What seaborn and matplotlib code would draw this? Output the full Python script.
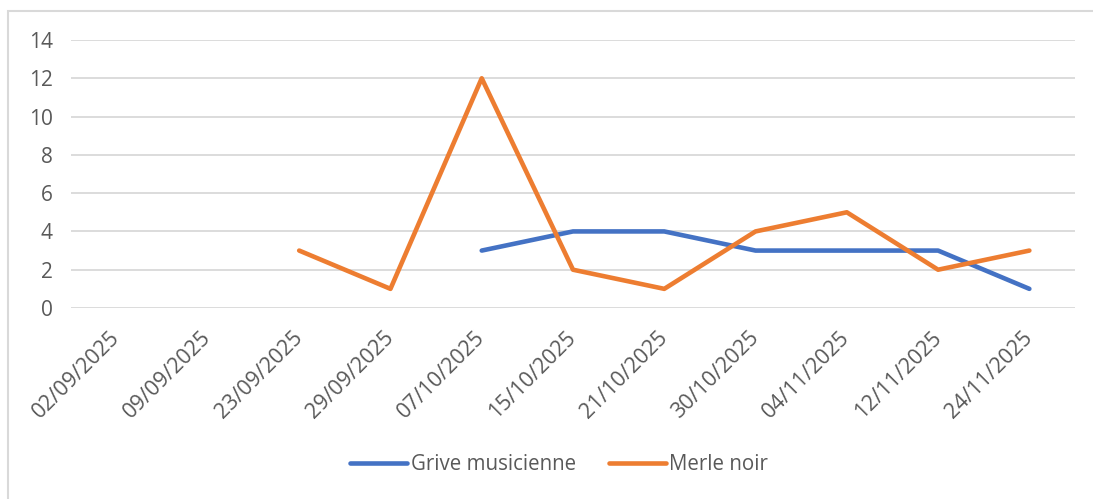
import matplotlib
matplotlib.use("Agg")
import matplotlib.pyplot as plt
import matplotlib.patches as patches
from matplotlib.lines import Line2D
import numpy as np
import pandas as pd
import seaborn as sns

dates = ['02/09/2025', '09/09/2025', '23/09/2025', '29/09/2025', '07/10/2025',
         '15/10/2025', '21/10/2025', '30/10/2025', '04/11/2025', '12/11/2025',
         '24/11/2025']
grive = [np.nan, np.nan, np.nan, np.nan, 3, 4, 4, 3, 3, 3, 1]
merle = [np.nan, np.nan, 3, 1, 12, 2, 1, 4, 5, 2, 3]
series_names = ['Grive musicienne', 'Merle noir']
y_ticks = [0, 2, 4, 6, 8, 10, 12, 14]

sns.set_style('white')
plt.rcParams['font.family'] = ['Open Sans', 'DejaVu Sans']
text_col = '#595959'
colors = ['#4472C4', '#ED7D31']

pos = np.arange(len(dates))
df = pd.DataFrame({'pos': np.concatenate([pos, pos]),
                   'count': grive + merle,
                   'espece': [series_names[0]] * len(dates) + [series_names[1]] * len(dates)})
df = df.dropna()

fig = plt.figure(figsize=(10.93, 4.99), dpi=100)
ax = fig.add_axes([71 / 1093, 1 - 308 / 499, (1075 - 71) / 1093, (308 - 40) / 499])

sns.lineplot(data=df, x='pos', y='count', hue='espece', hue_order=series_names,
             palette=colors, linewidth=3.3, ax=ax, legend=False)
for l in ax.lines:
    l.set_solid_capstyle('round')
    l.set_solid_joinstyle('round')

ax.set_xlim(-0.5, len(dates) - 0.5)
ax.set_ylim(0, 14)
ax.set_yticks(y_ticks)
ax.set_yticklabels([str(v) for v in y_ticks], fontsize=15, color=text_col)
ax.set_xticks(pos)
ax.set_xticklabels(dates, rotation=45, ha='right', va='center', rotation_mode='anchor',
                   fontsize=15.5, color=text_col)
ax.tick_params(axis='both', length=0)
ax.tick_params(axis='y', pad=13)
ax.tick_params(axis='x', pad=19)
ax.grid(axis='y', color='#D9D9D9', linewidth=1.3)
ax.set_axisbelow(True)
for s in ax.spines.values():
    s.set_visible(False)
ax.set_xlabel('')
ax.set_ylabel('')

# legend under the plot, like the Excel one
handles = [Line2D([0], [0], color=c, linewidth=3.3, solid_capstyle='round') for c in colors]
leg = fig.legend(handles, series_names, loc='center', bbox_to_anchor=(559 / 1093, 1 - 465 / 499),
                 ncol=2, frameon=False, fontsize=14.8, handlelength=2.8, handletextpad=0.15,
                 columnspacing=1.6)
for t in leg.get_texts():
    t.set_color(text_col)

# chart area border (left and top visible)
fig.patches.append(patches.Rectangle((8 / 1093, -0.1), 1.2, 1.1 - 11 / 499, transform=fig.transFigure,
                                     fill=False, edgecolor='#D9D9D9', linewidth=1.5))

fig.savefig('out.png', dpi=100)
